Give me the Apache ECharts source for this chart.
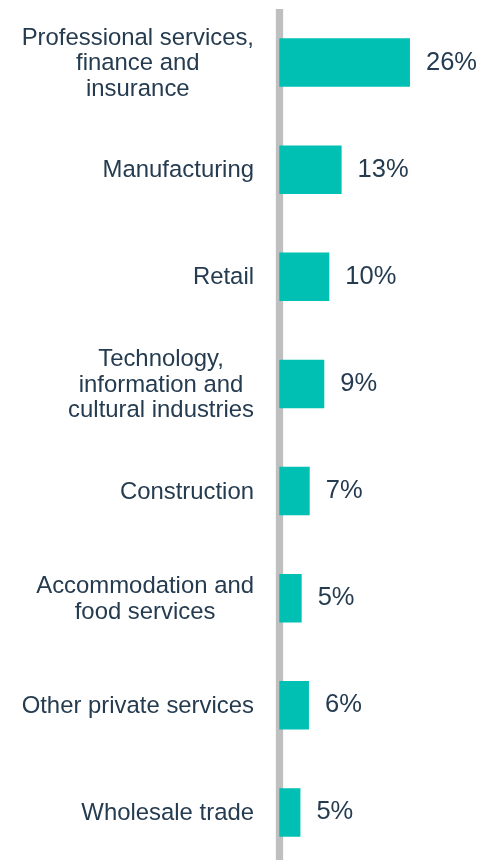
<!DOCTYPE html>
<html>
<head>
<meta charset="utf-8">
<script src="https://cdn.jsdelivr.net/npm/echarts@6/dist/echarts.min.js"></script>
<style>
  html, body { margin: 0; padding: 0; background: #fff; overflow: hidden; }
  #chart { width: 483px; height: 870px; }
</style>
</head>
<body>
<div id="chart"></div>
<script>
const sectors = [
  'Professional services,\nfinance and\ninsurance',
  'Manufacturing',
  'Retail',
  'Technology,\ninformation and\ncultural industries',
  'Construction',
  'Accommodation and\nfood services',
  'Other private services',
  'Wholesale trade'
]
// shares
const shares = [26, 12.4, 9.95, 8.95, 6.05, 4.45, 5.9, 4.2]
const shareLabels = ['26%', '13%', '10%', '9%', '7%', '5%', '6%', '5%']

const textColor = '#253b50'
const font = '"Liberation Sans", Arial, sans-serif'
const chart = echarts.init(document.getElementById('chart'))

chart.setOption({
  backgroundColor: '#fff',
  animation: false,
  grid: { left: 279.3, top: 9, width: 201, height: 857, containLabel: false },
  xAxis: {
    type: 'value',
    min: 0,
    max: 40,
    show: false
  },
  yAxis: {
    type: 'category',
    data: sectors,
    inverse: true,
    offset: 3.7,
    axisLine: { show: true, lineStyle: { color: '#bfbfbf', width: 7.3, cap: 'butt' } },
    axisTick: { show: false },
    splitLine: { show: false },
    axisLabel: {
      margin: 21.6,
      align: 'right',
      fontFamily: font,
      fontSize: 23.9,
      color: textColor,
      formatter: v => v.split('\n').map(l => '{c|' + l + '}').join('\n'),
      rich: {
        c: {
          align: 'center',
          fontFamily: font,
          fontSize: 23.9,
          lineHeight: 25.5,
          color: textColor,
          padding: [2, 0, 0, 0]
        }
      }
    }
  },
  series: [{
    type: 'bar',
    data: shares,
    barWidth: 48.5,
    itemStyle: { color: '#00bfb3' },
    label: {
      show: true,
      position: 'right',
      distance: 16,
      fontFamily: font,
      fontSize: 25.5,
      color: textColor,
      formatter: p => shareLabels[p.dataIndex]
    }
  }]
})
</script>
</body>
</html>
